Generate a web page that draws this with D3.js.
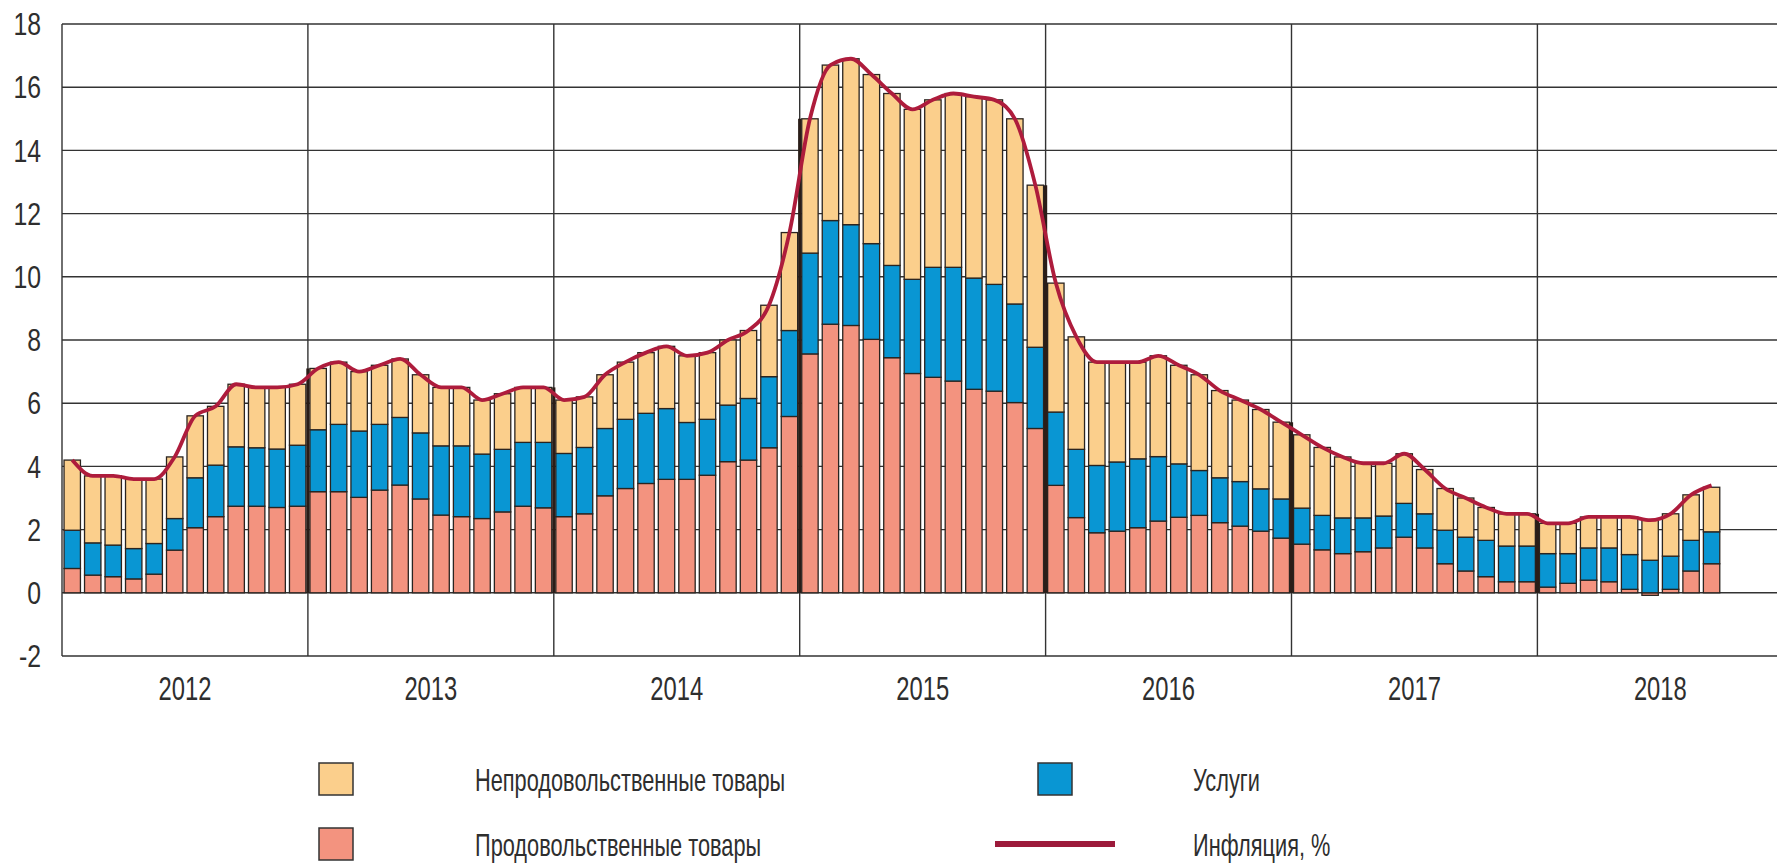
<!DOCTYPE html>
<html>
<head>
<meta charset="utf-8">
<script src="https://cdn.jsdelivr.net/npm/d3@7"></script>
<style>
  body { margin: 0; background: #fff; }
  text { font-family: "Liberation Sans", Arial, sans-serif; fill: #2e2e2e; }
</style>
</head>
<body>
<div id="chart"></div>
<script>
// Years on the x axis (monthly bars, Jan 2012 - Sep 2018)
const years = [2012, 2013, 2014, 2015, 2016, 2017, 2018]
const yTicks = [-2, 0, 2, 4, 6, 8, 10, 12, 14, 16, 18]

// Contribution to inflation, p.p. (food / services / non-food goods)
const food = [
  0.77, 0.56, 0.51, 0.44, 0.59, 1.35, 2.06, 2.41, 2.74, 2.74, 2.70, 2.74,
  3.20, 3.20, 3.02, 3.25, 3.41, 2.97, 2.46, 2.41, 2.35, 2.56, 2.74, 2.69,
  2.41, 2.50, 3.07, 3.30, 3.46, 3.59, 3.59, 3.72, 4.15, 4.20, 4.59, 5.58,
  7.56, 8.50, 8.46, 8.02, 7.44, 6.94, 6.82, 6.70, 6.44, 6.38, 6.02, 5.20,
  3.40, 2.38, 1.90, 1.95, 2.06, 2.27, 2.39, 2.45, 2.22, 2.11, 1.95, 1.73,
  1.54, 1.36, 1.24, 1.30, 1.42, 1.76, 1.42, 0.92, 0.69, 0.51, 0.35, 0.35,
  0.18, 0.30, 0.40, 0.35, 0.11, -0.08, 0.11, 0.69, 0.92
]
const services = [
  1.21, 1.02, 1.00, 0.96, 0.97, 1.00, 1.58, 1.63, 1.88, 1.85, 1.85, 1.93,
  1.96, 2.13, 2.10, 2.08, 2.14, 2.09, 2.19, 2.24, 2.04, 1.98, 2.02, 2.07,
  2.00, 2.10, 2.13, 2.19, 2.22, 2.24, 1.80, 1.77, 1.79, 1.95, 2.25, 2.72,
  3.19, 3.28, 3.19, 3.03, 2.92, 2.98, 3.48, 3.60, 3.52, 3.38, 3.12, 2.57,
  2.32, 2.16, 2.13, 2.19, 2.18, 2.04, 1.69, 1.42, 1.42, 1.41, 1.34, 1.24,
  1.14, 1.09, 1.13, 1.07, 1.01, 1.07, 1.08, 1.06, 1.07, 1.15, 1.13, 1.13,
  1.06, 0.94, 1.02, 1.07, 1.10, 1.03, 1.05, 0.97, 1.01
]
const nonfood = [
  2.22, 2.12, 2.19, 2.20, 2.04, 1.95, 1.96, 1.86, 1.98, 1.91, 1.95, 1.93,
  1.94, 1.97, 1.88, 1.87, 1.85, 1.84, 1.85, 1.85, 1.71, 1.76, 1.74, 1.74,
  1.69, 1.60, 1.70, 1.81, 1.92, 1.97, 2.11, 2.11, 2.06, 2.15, 2.26, 3.10,
  4.25, 4.92, 5.25, 5.35, 5.44, 5.38, 5.30, 5.50, 5.74, 5.84, 5.86, 5.13,
  4.08, 3.56, 3.27, 3.16, 3.06, 3.19, 3.12, 3.03, 2.76, 2.58, 2.51, 2.43,
  2.32, 2.15, 1.93, 1.73, 1.67, 1.57, 1.40, 1.32, 1.24, 1.04, 1.02, 1.02,
  0.96, 0.96, 0.98, 0.98, 1.19, 1.27, 1.34, 1.44, 1.41
]
// Inflation, % y/y
const inflation = [
  4.2, 3.7, 3.7, 3.6, 3.6, 4.3, 5.6, 5.9, 6.6, 6.5, 6.5, 6.6,
  7.1, 7.3, 7.0, 7.2, 7.4, 6.9, 6.5, 6.5, 6.1, 6.3, 6.5, 6.5,
  6.1, 6.2, 6.9, 7.3, 7.6, 7.8, 7.5, 7.6, 8.0, 8.3, 9.1, 11.4,
  15.0, 16.7, 16.9, 16.4, 15.8, 15.3, 15.6, 15.8, 15.7, 15.6, 15.0, 12.9,
  9.8, 8.1, 7.3, 7.3, 7.3, 7.5, 7.2, 6.9, 6.4, 6.1, 5.8, 5.4,
  5.0, 4.6, 4.3, 4.1, 4.1, 4.4, 3.9, 3.3, 3.0, 2.7, 2.5, 2.5,
  2.2, 2.2, 2.4, 2.4, 2.4, 2.3, 2.5, 3.1, 3.4
]

const legendNames = {
  nonfood: "Непродовольственные товары",
  food: "Продовольственные товары",
  services: "Услуги",
  line: "Инфляция, %"
}

// ----------------------------------------------------------

const width = 1777
const height = 866
const yearWidth = 245.9
const margins = { top: 24, bottom: 210, left: 62 }
const colors = { food: "#f3937f", services: "#0996d3", nonfood: "#fbcf8c", line: "#ae1c3c" }

const svg = d3.select("#chart").append("svg").attr("width", width).attr("height", height)

// months slots for the whole axis (7 years)
const months = years.flatMap(y => d3.range(12).map(m => y + "-" + m))
const rows = food.map((f, i) => ({ key: months[i], food: f, services: services[i], nonfood: nonfood[i], infl: inflation[i] }))

const x = d3.scaleBand().domain(months)
  .range([margins.left, margins.left + years.length * yearWidth])
  .paddingInner(0.2).paddingOuter(0.1)
const xYear = d3.scaleLinear().domain([0, years.length]).range([margins.left, margins.left + years.length * yearWidth])
const y = d3.scaleLinear().domain([-2, 18]).range([height - margins.bottom, margins.top])

// grid
const grid = svg.append("g").attr("stroke", "#333").attr("stroke-width", 1.4)
grid.selectAll("line.h").data(yTicks).enter().append("line")
  .attr("x1", margins.left).attr("x2", width)
  .attr("y1", d => y(d)).attr("y2", d => y(d))
grid.selectAll("line.v").data(d3.range(years.length)).enter().append("line")
  .attr("x1", d => xYear(d)).attr("x2", d => xYear(d))
  .attr("y1", y(18)).attr("y2", y(-2))

// condensed look: squeeze the text horizontally
const squeeze = (px, py, s) => `translate(${px},${py}) scale(${s},1)`

// y labels
svg.append("g").selectAll("text").data(yTicks).enter().append("text")
  .attr("transform", d => squeeze(41, y(d), 0.8)).attr("dy", "0.36em")
  .attr("text-anchor", "end").attr("font-size", 31)
  .text(d => d)

// x labels
svg.append("g").selectAll("text").data(years).enter().append("text")
  .attr("transform", (d, i) => squeeze(xYear(i + 0.5), 700, 0.7))
  .attr("text-anchor", "middle").attr("font-size", 34)
  .text(d => d)

// stacked bars
const keys = ["food", "services", "nonfood"]
const series = d3.stack().keys(keys).offset(d3.stackOffsetDiverging)(rows)
svg.append("g").selectAll("g").data(series).enter().append("g")
  .attr("fill", d => colors[d.key])
  .selectAll("rect").data(d => d).enter().append("rect")
  .attr("x", d => x(d.data.key))
  .attr("width", x.bandwidth())
  .attr("y", d => y(Math.max(d[0], d[1])))
  .attr("height", d => Math.abs(y(d[0]) - y(d[1])))
  .attr("stroke", "#2a2420").attr("stroke-width", 1.3)

// dark year separators where the bars touch
const seps = d3.range(1, years.length).filter(k => rows[k * 12])
svg.append("g").selectAll("line").data(seps).enter().append("line")
  .attr("x1", k => xYear(k)).attr("x2", k => xYear(k))
  .attr("y1", y(0))
  .attr("y2", k => y(Math.max(inflation[k * 12 - 1], inflation[k * 12])))
  .attr("stroke", "#2a1d18").attr("stroke-width", 3.2)

// inflation line
svg.append("path").datum(rows)
  .attr("fill", "none").attr("stroke", colors.line).attr("stroke-width", 3.8)
  .attr("d", d3.line().curve(d3.curveMonotoneX)
    .x(d => x(d.key) + x.bandwidth() / 2)
    .y(d => y(d.infl)))

// legend
const legend = svg.append("g")
const swatches = [
  { key: "nonfood", x: 319, y: 763 },
  { key: "food", x: 319, y: 828 },
  { key: "services", x: 1038, y: 763 }
]
legend.selectAll("rect").data(swatches).enter().append("rect")
  .attr("x", d => d.x).attr("y", d => d.y).attr("width", 34).attr("height", 32)
  .attr("fill", d => colors[d.key]).attr("stroke", "#333").attr("stroke-width", 1.5)
legend.append("line").attr("x1", 995).attr("x2", 1115).attr("y1", 844).attr("y2", 844)
  .attr("stroke", "#9c1a3b").attr("stroke-width", 6)

const labels = [
  { t: legendNames.nonfood, x: 475, y: 779 },
  { t: legendNames.food, x: 475, y: 844 },
  { t: legendNames.services, x: 1193, y: 779 },
  { t: legendNames.line, x: 1193, y: 844 }
]
legend.selectAll("text").data(labels).enter().append("text")
  .attr("transform", d => squeeze(d.x, d.y, 0.68)).attr("dy", "0.36em")
  .attr("font-size", 32)
  .text(d => d.t)
</script>
</body>
</html>
